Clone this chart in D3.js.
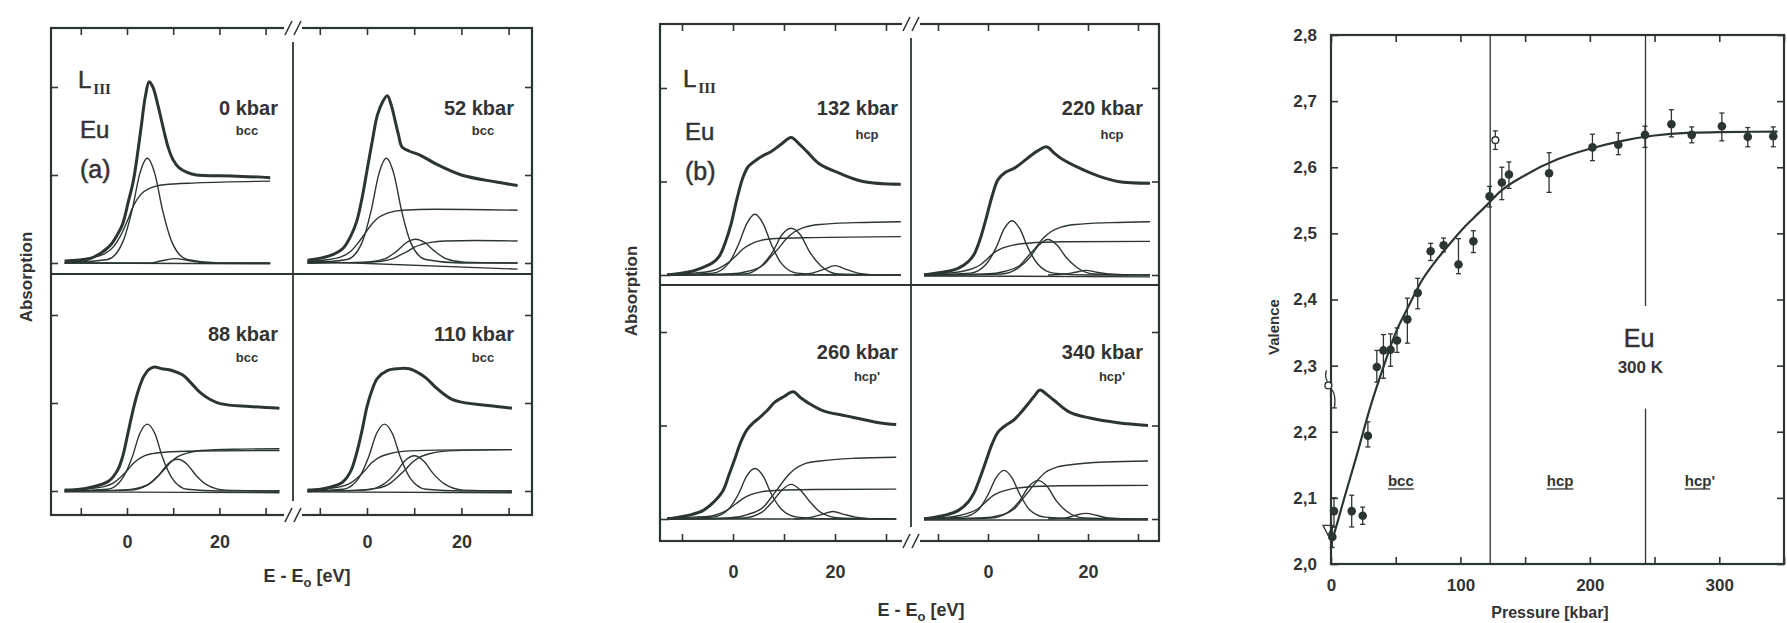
<!DOCTYPE html>
<html>
<head>
<meta charset="utf-8">
<script src="https://cdn.jsdelivr.net/npm/d3@7"></script>
<style>
  body { margin: 0; background: #fff; }
</style>
</head>
<body>
<script>
// ---------- spectra (a) and (b): x = E - E0 [eV], y = absorption in tick units ----------
const pressures = ["0 kbar", "52 kbar", "88 kbar", "110 kbar", "132 kbar", "220 kbar", "260 kbar", "340 kbar"];
const phases = ["bcc", "bcc", "bcc", "bcc", "hcp", "hcp", "hcp'", "hcp'"];

const measured = [
  [[-13.5,0.02],[-8,0.05],[-4,0.18],[-2,0.33],[-0.9,0.45],[0.3,0.7],[1.4,0.94],[2.9,1.48],[4,1.9],[4.8,2.06],[5.6,2.0],[6.7,1.79],[8,1.5],[9,1.3],[10,1.17],[11.3,1.08],[13,1.03],[15,1.0],[22.7,0.99],[31,0.97]],
  [[-12.6,0.03],[-8,0.08],[-5.2,0.16],[-3.5,0.3],[-2.2,0.47],[-1,0.75],[0,1.05],[1.1,1.38],[2.2,1.68],[3.3,1.83],[4.3,1.9],[5.1,1.8],[5.9,1.63],[6.7,1.45],[7.4,1.32],[9,1.27],[11.1,1.23],[14.8,1.12],[20,1.0],[27.4,0.92],[31.9,0.88]],
  [[-13.5,0],[-8,0.04],[-4,0.11],[-2,0.24],[-0.9,0.4],[0.3,0.68],[1.4,0.94],[2.5,1.15],[3.6,1.3],[4.7,1.38],[5.9,1.41],[7.5,1.39],[9.7,1.37],[12,1.32],[14,1.22],[15.8,1.12],[18,1.04],[20.4,0.99],[26.5,0.96],[33,0.94]],
  [[-12.6,0],[-8,0.04],[-5.2,0.1],[-3.5,0.22],[-2.2,0.43],[-1,0.7],[0,0.96],[1.1,1.15],[2.2,1.28],[4.4,1.37],[6.5,1.39],[8.9,1.39],[11,1.34],[12.6,1.28],[14.5,1.18],[16.3,1.1],[18,1.04],[20,1.01],[27.4,0.96],[30.7,0.94]],
  [[-12.9,0],[-8,0.04],[-5.9,0.08],[-4,0.13],[-2.7,0.2],[-1.5,0.35],[-0.4,0.54],[0.8,0.82],[2,1.05],[3,1.16],[4.3,1.22],[6,1.28],[7.5,1.32],[9.5,1.4],[11.4,1.47],[13,1.4],[14.5,1.32],[16.9,1.19],[20.8,1.09],[25.5,1.0],[32.9,0.97]],
  [[-12.8,0],[-8,0.04],[-6,0.07],[-4,0.14],[-2.8,0.22],[-1.6,0.38],[-0.4,0.6],[0.8,0.84],[2,1.02],[3.5,1.1],[5.2,1.14],[7,1.21],[8.4,1.27],[10,1.33],[11.8,1.37],[13.3,1.3],[14.8,1.24],[18,1.15],[22,1.06],[26,1.0],[32.4,0.98]],
  [[-12.9,0],[-8,0.05],[-5.9,0.09],[-4,0.17],[-2,0.3],[-0.8,0.47],[0.4,0.65],[1.5,0.82],[2.7,0.95],[4,1.03],[5.1,1.08],[6.7,1.16],[8.2,1.25],[10,1.31],[11.8,1.36],[13.2,1.3],[14.5,1.25],[17.6,1.16],[22.4,1.1],[28.6,1.03],[32,1.01]],
  [[-12.8,0],[-8,0.05],[-6,0.09],[-4,0.18],[-2.8,0.28],[-1.6,0.44],[-0.4,0.62],[0.8,0.8],[2,0.93],[3.5,1.0],[5.2,1.06],[6.6,1.14],[8,1.23],[9.2,1.31],[10.4,1.38],[11.8,1.33],[13.2,1.27],[16.4,1.14],[20.4,1.08],[26,1.03],[32,1.0]]
];

// divalent white line
const peak2 = [
  [[-13.5,0],[-4.2,0.04],[-0.9,0.24],[1.1,0.6],[2.75,1.01],[4.4,1.19],[6.05,1.01],[7.7,0.6],[9.7,0.24],[13,0.04],[20,0],[31,0]],
  [[-12.6,0],[-4.2,0.04],[-1,0.24],[0.9,0.6],[2.5,1.01],[4.1,1.19],[5.7,1.01],[7.3,0.6],[9.2,0.24],[12.4,0.04],[20,0],[31.9,0]],
  [[-13.5,0],[-4.2,0.02],[-0.9,0.15],[1.1,0.38],[2.75,0.65],[4.4,0.76],[6.05,0.65],[7.7,0.38],[9.7,0.15],[13,0.02],[20,0],[33,0]],
  [[-12.6,0],[-5.1,0.02],[-1.7,0.15],[0.3,0.38],[2,0.65],[3.7,0.76],[5.4,0.65],[7.1,0.38],[9.1,0.15],[12.5,0.02],[20,0],[30.7,0]],
  [[-12.9,0],[-4,0.02],[-0.8,0.13],[1.1,0.33],[2.7,0.55],[4.3,0.65],[5.9,0.55],[7.5,0.33],[9.4,0.13],[12.6,0.02],[20,0],[32.9,0]],
  [[-12.8,0],[-3.5,0.02],[-0.3,0.12],[1.6,0.29],[3.2,0.49],[4.8,0.58],[6.4,0.49],[8,0.29],[9.9,0.12],[13.1,0.02],[20,0],[32.4,0]],
  [[-12.9,0],[-4,0.02],[-0.8,0.11],[1.1,0.27],[2.7,0.46],[4.3,0.54],[5.9,0.46],[7.5,0.27],[9.4,0.11],[12.6,0.02],[20,0],[32,0]],
  [[-12.8,0],[-5.1,0.02],[-1.9,0.1],[0,0.26],[1.6,0.44],[3.2,0.52],[4.8,0.44],[6.4,0.26],[8.3,0.1],[11.5,0.02],[20,0],[32,0]]
];

// trivalent white line
const peak3 = [
  [[-13.5,0],[5,0],[7.5,0.025],[10.5,0.05],[13.5,0.025],[17,0],[31,0]],
  [[-12.6,0],[0,0.01],[3.9,0.05],[6.3,0.135],[8.3,0.23],[10.3,0.27],[12.3,0.23],[14.3,0.135],[16.7,0.05],[20.6,0.01],[31.9,0]],
  [[-13.5,0],[0.5,0.01],[4.5,0.07],[6.9,0.18],[8.9,0.31],[10.9,0.36],[12.9,0.31],[14.9,0.18],[17.3,0.07],[21.3,0.01],[33,0]],
  [[-12.6,0],[-0.4,0.01],[3.6,0.08],[6,0.2],[8,0.34],[10,0.4],[12,0.34],[14,0.2],[16.4,0.08],[20.4,0.01],[30.7,0]],
  [[-12.9,0],[2,0.01],[5.6,0.1],[7.8,0.25],[9.6,0.43],[11.4,0.5],[13.2,0.43],[15,0.25],[17.2,0.1],[20.8,0.01],[32.9,0]],
  [[-12.8,0],[2.6,0.01],[6.2,0.08],[8.4,0.19],[10.2,0.32],[12,0.38],[13.8,0.32],[15.6,0.19],[17.8,0.08],[21.4,0.01],[32.4,0]],
  [[-12.9,0],[2,0.01],[5.6,0.07],[7.8,0.19],[9.6,0.31],[11.4,0.37],[13.2,0.31],[15,0.19],[17.2,0.07],[20.8,0.01],[32,0]],
  [[-12.8,0],[0.6,0.01],[4.2,0.08],[6.4,0.2],[8.2,0.35],[10,0.41],[11.8,0.35],[13.6,0.2],[15.8,0.08],[19.4,0.01],[32,0]]
];

// small structure near 20 eV
const peak4 = [
  [], [], [], [],
  [[12,0],[15.5,0.02],[17.8,0.06],[20,0.1],[22.2,0.06],[24.5,0.02],[28,0]],
  [[12,0],[15.5,0.01],[17.5,0.03],[19.6,0.05],[21.7,0.03],[24,0.01],[28,0]],
  [[12,0],[15.5,0.02],[17.5,0.05],[19.6,0.08],[21.7,0.05],[24,0.02],[28,0]],
  [[12,0],[15.5,0.01],[17.5,0.04],[19.6,0.06],[21.7,0.04],[24,0.01],[28,0]]
];

// divalent edge step
const step2 = [
  [[-13.5,0.03],[-8,0.06],[-5,0.1],[-3,0.18],[-1.5,0.3],[0,0.47],[1.5,0.66],[3,0.78],[5,0.85],[8,0.89],[15,0.91],[31,0.93]],
  [[-12.6,0.02],[-8,0.04],[-5.5,0.07],[-3.5,0.13],[-2,0.22],[-0.5,0.33],[1,0.44],[2.5,0.52],[4.5,0.57],[7.5,0.6],[14.5,0.61],[31.9,0.6]],
  [[-13.5,0.02],[-8,0.03],[-5,0.05],[-3,0.09],[-1.5,0.15],[0,0.23],[1.5,0.32],[3,0.38],[5,0.42],[8,0.44],[15,0.455],[33,0.46]],
  [[-12.6,0.02],[-8,0.03],[-5.5,0.05],[-3.5,0.09],[-2,0.15],[-0.5,0.23],[1,0.32],[2.5,0.38],[4.5,0.42],[7.5,0.45],[14.5,0.465],[30.7,0.47]],
  [[-12.9,0.01],[-8,0.02],[-4.5,0.04],[-2.5,0.08],[-1,0.13],[0.5,0.2],[2,0.28],[3.5,0.33],[5.5,0.37],[8.5,0.39],[15.5,0.4],[32.9,0.41]],
  [[-12.8,0.01],[-8,0.02],[-5,0.04],[-3,0.07],[-1.5,0.11],[0,0.18],[1.5,0.25],[3,0.29],[5,0.32],[8,0.34],[15,0.355],[32.4,0.36]],
  [[-12.9,0.01],[-8,0.02],[-4.5,0.03],[-2.5,0.06],[-1,0.1],[0.5,0.16],[2,0.22],[3.5,0.26],[5.5,0.29],[8.5,0.305],[15.5,0.315],[32,0.32]],
  [[-12.8,0.01],[-8,0.02],[-5.5,0.04],[-3.5,0.07],[-2,0.11],[-0.5,0.18],[1,0.25],[2.5,0.29],[4.5,0.32],[7.5,0.34],[14.5,0.355],[32,0.36]]
];

// trivalent edge step
const step3 = [
  [],
  [[-12.6,0],[0,0.01],[3,0.02],[5.5,0.05],[7,0.09],[8.5,0.13],[10,0.18],[11.5,0.21],[13.5,0.235],[16.5,0.25],[23,0.255],[31.9,0.25]],
  [[-13.5,0],[-2,0.01],[2,0.03],[5,0.09],[6.5,0.16],[8,0.24],[9.5,0.33],[11,0.39],[13,0.43],[16,0.46],[23,0.475],[33,0.48]],
  [[-12.6,0],[-2,0.01],[2,0.03],[5,0.09],[6.5,0.16],[8,0.235],[9.5,0.32],[11,0.38],[13,0.42],[16,0.45],[23,0.465],[30.7,0.47]],
  [[-12.9,0],[-1,0.01],[3,0.04],[6,0.11],[7.5,0.2],[9,0.29],[10.5,0.39],[12,0.46],[14,0.51],[17,0.54],[24,0.56],[32.9,0.57]],
  [[-12.8,0],[-0.5,0.01],[3.5,0.04],[6.5,0.11],[8,0.2],[9.5,0.29],[11,0.39],[12.5,0.46],[14.5,0.51],[17.5,0.54],[24.5,0.56],[32.4,0.57]],
  [[-12.9,0],[-1,0.01],[3,0.05],[6,0.13],[7.5,0.23],[9,0.34],[10.5,0.45],[12,0.53],[14,0.59],[17,0.62],[24,0.65],[32,0.66]],
  [[-12.8,0],[-1.5,0.01],[2.5,0.04],[5.5,0.12],[7,0.22],[8.5,0.32],[10,0.42],[11.5,0.5],[13.5,0.55],[16.5,0.58],[23.5,0.61],[32,0.62]]
];

const baseLine = [
  [[-13.5,0],[31,-0.01]],
  [[-12.6,0.02],[31.9,-0.07]],
  [[-13.5,-0.01],[33,-0.02]],
  [[-12.6,-0.01],[30.7,-0.02]],
  [[-12.9,0],[32.9,0]],
  [[-12.8,-0.01],[32.4,-0.02]],
  [[-12.9,0],[32,0]],
  [[-12.8,-0.01],[32,-0.01]]
];

const energyTicks = [-10, 0, 10, 20, 30];
const energyLabels = [0, 20];
const absTicks = [0, 1, 2];

// ---------- valence vs pressure (c) ----------
const pressKbar = [2.3, 1, 16, 24.5, 28.5, 35.4, 40.5, 46, 51, 59, 67, 77, 87, 98.5, 110, 122.5, 132, 137.5, 168.5, 202, 222, 242.6, 263, 278.7, 302, 322, 341.7];
const valence   = [2.08, 2.041, 2.08, 2.073, 2.194, 2.298, 2.323, 2.324, 2.338, 2.37, 2.41, 2.473, 2.482, 2.453, 2.488, 2.556, 2.577, 2.589, 2.591, 2.63, 2.634, 2.649, 2.665, 2.649, 2.662, 2.646, 2.647];
const valHigh   = [2.1, 2.056, 2.104, 2.086, 2.215, 2.323, 2.347, 2.348, 2.357, 2.402, 2.432, 2.485, 2.493, 2.492, 2.504, 2.571, 2.6, 2.608, 2.622, 2.65, 2.652, 2.662, 2.687, 2.661, 2.682, 2.66, 2.661];
const valLow    = [2.056, 2.025, 2.056, 2.06, 2.177, 2.275, 2.281, 2.299, 2.32, 2.334, 2.386, 2.459, 2.472, 2.439, 2.471, 2.54, 2.551, 2.568, 2.562, 2.61, 2.619, 2.63, 2.646, 2.637, 2.64, 2.631, 2.631];

const openKbar = [127, -2];
const openVal  = [2.641, 2.27];
const openHigh = [2.655, 2.293];
const openLow  = [2.627, 2.236];
const triangleAt = [-2.3, 2.051];

const fitKbar = [0, 5, 10, 20, 30, 40, 50, 60, 70, 80, 90, 100, 110, 120, 130, 150, 175, 200, 225, 250, 275, 300, 345];
const fitVal  = [2.03, 2.063, 2.098, 2.165, 2.235, 2.295, 2.35, 2.39, 2.428, 2.456, 2.48, 2.503, 2.523, 2.542, 2.562, 2.588, 2.612, 2.628, 2.64, 2.648, 2.652, 2.653, 2.654];

const phaseBounds = [123, 243];
const phaseNames = ["bcc", "hcp", "hcp'"];
const phaseCenters = [54, 177, 285];
const pressureTicks = [0, 50, 100, 150, 200, 250, 300, 350];
const pressureLabels = [0, 100, 200, 300];
const valenceTicks = [2.0, 2.1, 2.2, 2.3, 2.4, 2.5, 2.6, 2.7, 2.8];

// ---------- drawing ----------
const W = 1787, H = 623;
const ink = "#2b3631";
const txt = "#333";
const sans = "'Liberation Sans', Arial, sans-serif";

const svg = d3.select("body").append("svg")
    .attr("width", W)
    .attr("height", H)
    .style("font-family", sans);
svg.append("rect").attr("width", W).attr("height", H).attr("fill", "#fff");

const panels = [
  { x0: 51, x1: 532, xd: 293, y0: 28, y1: 515, yd: 274, rows: [263, 491], unit: 88,
    cols: [[127, 4.62], [367, 4.72]], tag: "(a)", tagX: 78, tagY: [88, 138, 178],
    labelRight: [278, 514], labelY: [[115, 135], [341, 362]],
    tickBase: 548, xTitle: [307, 582], yTitle: [26, 277] },
  { x0: 660, x1: 1159, xd: 911, y0: 24, y1: 541, yd: 285, rows: [275, 519], unit: 93.5,
    cols: [[733, 5.1], [988, 5.0]], tag: "(b)", tagX: 683, tagY: [87, 140, 180],
    labelRight: [898, 1143], labelY: [[115, 139], [359, 381]],
    tickBase: 578, xTitle: [921, 616], yTitle: [631, 291] }
];

function styleAxis(g) {
  g.select(".domain").remove();
  g.selectAll(".tick line").attr("stroke", ink).attr("stroke-width", 1.6);
  g.selectAll(".tick text").attr("fill", txt).attr("font-family", sans)
    .attr("font-weight", "bold");
}

function breakMark(x, y) {
  svg.append("rect").attr("x", x - 9).attr("y", y - 4).attr("width", 18).attr("height", 8).attr("fill", "#fff");
  [-4.5, 4.5].forEach(dx => {
    svg.append("line")
      .attr("x1", x + dx - 3.5).attr("y1", y + 7)
      .attr("x2", x + dx + 3.5).attr("y2", y - 7)
      .attr("stroke", ink).attr("stroke-width", 1.6);
  });
}

panels.forEach(P => {
  svg.append("rect")
    .attr("x", P.x0).attr("y", P.y0)
    .attr("width", P.x1 - P.x0).attr("height", P.y1 - P.y0)
    .attr("fill", "none").attr("stroke", ink).attr("stroke-width", 2.2);
  svg.append("line").attr("x1", P.x0).attr("x2", P.x1).attr("y1", P.yd).attr("y2", P.yd)
    .attr("stroke", ink).attr("stroke-width", 2.2);
  svg.append("line").attr("x1", P.xd).attr("x2", P.xd).attr("y1", P.y0 + 14).attr("y2", P.y1 - 14)
    .attr("stroke", ink).attr("stroke-width", 1.8);
  breakMark(P.xd, P.y0);
  breakMark(P.xd, P.y1);

  // tag  L_III / Eu / (a)
  const t = svg.append("text").attr("x", P.tagX).attr("y", P.tagY[0])
    .attr("fill", txt).attr("font-size", 24).attr("stroke", txt).attr("stroke-width", 0.5);
  t.append("tspan").text("L");
  t.append("tspan").attr("dy", 6).attr("dx", 2).attr("font-size", 15).attr("stroke-width", 0)
    .attr("font-family", "'Liberation Serif', serif").attr("font-weight", "bold").text("III");
  svg.append("text").attr("x", P.tagX + 2).attr("y", P.tagY[1]).attr("fill", txt)
    .attr("stroke", txt).attr("stroke-width", 0.5).attr("font-size", 24).text("Eu");
  svg.append("text").attr("x", P.tagX + 2).attr("y", P.tagY[2]).attr("fill", txt)
    .attr("stroke", txt).attr("stroke-width", 0.5).attr("font-size", 25).text(P.tag);

  // axis titles
  const xt = svg.append("text").attr("x", P.xTitle[0]).attr("y", P.xTitle[1])
    .attr("text-anchor", "middle").attr("fill", txt).attr("font-size", 18).attr("font-weight", "bold");
  xt.append("tspan").text("E - E");
  xt.append("tspan").attr("dy", 5).attr("font-size", 13).text("o");
  xt.append("tspan").attr("dy", -5).text(" [eV]");
  svg.append("text")
    .attr("transform", `translate(${P.yTitle[0]},${P.yTitle[1]}) rotate(-90)`)
    .attr("text-anchor", "middle").attr("dy", "0.35em")
    .attr("fill", txt).attr("font-size", 17).attr("font-weight", "bold").text("Absorption");
});

pressures.forEach((pr, i) => {
  const P = panels[Math.floor(i / 4)];
  const row = Math.floor((i % 4) / 2), col = i % 2;
  const [z, k] = P.cols[col];
  const x = d3.scaleLinear().domain([0, 20]).range([z, z + 20 * k]);
  const base = P.rows[row];
  const y = d3.scaleLinear().domain([0, 1]).range([base, base - P.unit]);
  const line = d3.line().x(d => x(d[0])).y(d => y(d[1])).curve(d3.curveMonotoneX);
  const smooth = d3.line().x(d => x(d[0])).y(d => y(d[1])).curve(d3.curveCatmullRom.alpha(0.5));
  const g = svg.append("g");

  [baseLine, step2, step3, peak2, peak3, peak4].forEach(set => {
    if (!set[i].length) return;
    g.append("path").attr("d", line(set[i]))
      .attr("fill", "none").attr("stroke", ink).attr("stroke-width", 1.4);
  });
  g.append("path").attr("d", smooth(measured[i]))
    .attr("fill", "none").attr("stroke", ink).attr("stroke-width", 3)
    .attr("stroke-linejoin", "round");

  // ticks
  if (row === 0) {
    svg.append("g").attr("transform", `translate(0,${P.y0})`)
      .call(d3.axisTop(x).tickValues(energyTicks).tickSize(-7).tickFormat(""))
      .call(styleAxis);
  } else {
    svg.append("g").attr("transform", `translate(0,${P.y1})`)
      .call(d3.axisBottom(x).tickValues(energyTicks).tickSize(-7)
        .tickPadding(P.tickBase - P.y1 - 13)
        .tickFormat(d => energyLabels.includes(d) ? d : ""))
      .call(styleAxis)
      .call(g => g.selectAll(".tick text").attr("font-size", 18));
  }
  if (col === 0) {
    svg.append("g").attr("transform", `translate(${P.x0},0)`)
      .call(d3.axisLeft(y).tickValues(absTicks).tickSize(-7).tickFormat(""))
      .call(styleAxis);
  } else {
    svg.append("g").attr("transform", `translate(${P.x1},0)`)
      .call(d3.axisRight(y).tickValues(absTicks).tickSize(-7).tickFormat(""))
      .call(styleAxis);
  }

  const r = P.labelRight[col];
  svg.append("text").attr("x", r).attr("y", P.labelY[row][0]).attr("text-anchor", "end")
    .attr("fill", txt).attr("font-size", 20).attr("font-weight", "bold").text(pr);
  svg.append("text").attr("x", r - 31).attr("y", P.labelY[row][1]).attr("text-anchor", "middle")
    .attr("fill", txt).attr("font-size", 13).attr("font-weight", "bold").text(phases[i]);
});

// ---------- panel (c) ----------
const xC = d3.scaleLinear().domain([0, 350]).range([1331, 1784]);
const yC = d3.scaleLinear().domain([2.0, 2.8]).range([564, 35]);

svg.append("rect").attr("x", xC(0)).attr("y", yC(2.8))
  .attr("width", xC(350) - xC(0)).attr("height", yC(2.0) - yC(2.8))
  .attr("fill", "none").attr("stroke", ink).attr("stroke-width", 2.2);

svg.append("g").attr("transform", `translate(0,${yC(2.0)})`)
  .call(d3.axisBottom(xC).tickValues(pressureTicks).tickSize(-7).tickPadding(15)
    .tickFormat(d => pressureLabels.includes(d) ? d : ""))
  .call(styleAxis).call(g => g.selectAll(".tick text").attr("font-size", 17));
svg.append("g").attr("transform", `translate(0,${yC(2.8)})`)
  .call(d3.axisTop(xC).tickValues(pressureTicks).tickSize(-7).tickFormat(""))
  .call(styleAxis);
svg.append("g").attr("transform", `translate(${xC(0)},0)`)
  .call(d3.axisLeft(yC).tickValues(valenceTicks).tickSize(-7).tickPadding(14)
    .tickFormat(d => d3.format(".1f")(d).replace(".", ",")))
  .call(styleAxis).call(g => g.selectAll(".tick text").attr("font-size", 17));
svg.append("g").attr("transform", `translate(${xC(350)},0)`)
  .call(d3.axisRight(yC).tickValues(valenceTicks).tickSize(-7).tickFormat(""))
  .call(styleAxis);

// phase boundaries (second one interrupted by the label)
const boundarySegments = [[[2.0, 2.8]], [[2.0, 2.235], [2.39, 2.8]]];
phaseBounds.forEach((p, j) => {
  boundarySegments[j].forEach(seg => {
    svg.append("line").attr("x1", xC(p)).attr("x2", xC(p))
      .attr("y1", yC(seg[0])).attr("y2", yC(seg[1]))
      .attr("stroke", ink).attr("stroke-width", 1.3);
  });
});

phaseNames.forEach((n, j) => {
  const t = svg.append("text").attr("x", xC(phaseCenters[j])).attr("y", yC(2.118))
    .attr("text-anchor", "middle").attr("fill", txt).attr("font-size", 15)
    .attr("font-weight", "bold").text(n);
  const w = t.node().getComputedTextLength();
  const wl = n.endsWith("'") ? w - 5 : w;
  svg.append("line")
    .attr("x1", xC(phaseCenters[j]) - w / 2).attr("x2", xC(phaseCenters[j]) - w / 2 + wl)
    .attr("y1", yC(2.118) + 3).attr("y2", yC(2.118) + 3)
    .attr("stroke", txt).attr("stroke-width", 1.3);
});

svg.append("text").attr("x", xC(238)).attr("y", 347).attr("text-anchor", "middle")
  .attr("fill", txt).attr("stroke", txt).attr("stroke-width", 0.5).attr("font-size", 25).text("Eu");
svg.append("text").attr("x", xC(239)).attr("y", 373).attr("text-anchor", "middle")
  .attr("fill", txt).attr("font-size", 17).attr("font-weight", "bold").text("300 K");

svg.append("text")
  .attr("transform", `translate(1274,327) rotate(-90)`)
  .attr("text-anchor", "middle").attr("dy", "0.35em")
  .attr("fill", txt).attr("font-size", 15).attr("font-weight", "bold").text("Valence");
svg.append("text").attr("x", 1550).attr("y", 618).attr("text-anchor", "middle")
  .attr("fill", txt).attr("font-size", 16).attr("font-weight", "bold").text("Pressure [kbar]");

// fit curve
const fitLine = d3.line().x(d => xC(d[0])).y(d => yC(d[1])).curve(d3.curveMonotoneX);
svg.append("path").attr("d", fitLine(fitKbar.map((p, i) => [p, fitVal[i]])))
  .attr("fill", "none").attr("stroke", ink).attr("stroke-width", 2.2);

// error bars + filled points
function errBar(px, hi, lo) {
  const X = xC(px);
  svg.append("line").attr("x1", X).attr("x2", X).attr("y1", yC(hi)).attr("y2", yC(lo))
    .attr("stroke", ink).attr("stroke-width", 1.3);
  [hi, lo].forEach(v => svg.append("line").attr("x1", X - 2.5).attr("x2", X + 2.5)
    .attr("y1", yC(v)).attr("y2", yC(v)).attr("stroke", ink).attr("stroke-width", 1.3));
}
pressKbar.forEach((p, i) => errBar(p, valHigh[i], valLow[i]));
svg.append("g").selectAll("circle").data(pressKbar).join("circle")
  .attr("cx", d => xC(d)).attr("cy", (d, i) => yC(valence[i])).attr("r", 4.3)
  .attr("fill", ink);

// open circles
errBar(openKbar[0], openHigh[0], openLow[0]);
// ambient open point with wavy bar
{
  const X = xC(openKbar[1]);
  const yh = yC(openHigh[1]), yl = yC(openLow[1]), yc = yC(openVal[1]);
  svg.append("path")
    .attr("d", `M${X - 2},${yh} q-2,6 1,${yc - yh - 4} M${X + 2},${yc + 3} q6,4 4,${yl - yc - 3}`)
    .attr("fill", "none").attr("stroke", ink).attr("stroke-width", 1.3);
  svg.append("line").attr("x1", X + 3.5).attr("x2", X + 8.5).attr("y1", yl).attr("y2", yl)
    .attr("stroke", ink).attr("stroke-width", 1.3);
}
svg.append("g").selectAll("circle").data(openKbar).join("circle")
  .attr("cx", d => xC(d)).attr("cy", (d, i) => yC(openVal[i])).attr("r", 3.4)
  .attr("fill", "#fff").attr("stroke", ink).attr("stroke-width", 1.4);

// ambient triangle
{
  const X = xC(triangleAt[0]), Y = yC(triangleAt[1]);
  svg.append("path").attr("d", `M${X - 5},${Y - 5} L${X + 5},${Y - 5} L${X},${Y + 5} Z`)
    .attr("fill", "none").attr("stroke", ink).attr("stroke-width", 1.3);
}
</script>
</body>
</html>
